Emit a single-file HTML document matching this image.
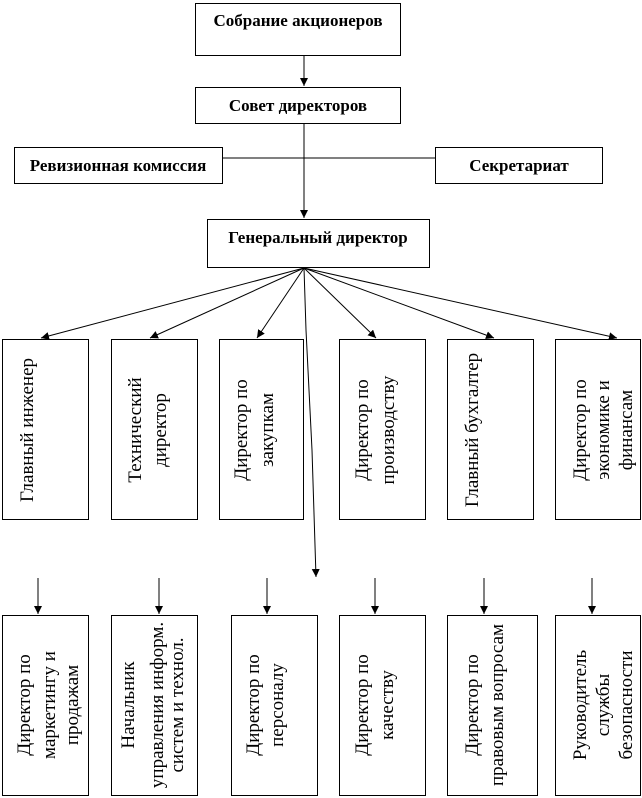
<!DOCTYPE html>
<html><head><meta charset="utf-8"><style>body{margin:0;background:#fff}svg{display:block}</style></head><body>
<svg width="642" height="798" viewBox="0 0 642 798" xmlns="http://www.w3.org/2000/svg" font-family="Liberation Serif, serif">
<defs><marker id="a" markerWidth="10" markerHeight="10" refX="8" refY="4" orient="auto" markerUnits="userSpaceOnUse"><path d="M0,0 L8,4 L0,8 z" fill="#000"/></marker></defs>
<g fill="#fff" stroke="#000" stroke-width="1">
<rect x="195.5" y="3.5" width="205" height="52"/>
<rect x="195.5" y="87.5" width="205" height="36"/>
<rect x="14.5" y="147.5" width="208" height="36"/>
<rect x="435.5" y="147.5" width="167" height="36"/>
<rect x="207.5" y="219.5" width="222" height="48"/>
<rect x="2.5" y="339.5" width="86" height="180"/>
<rect x="111.5" y="339.5" width="86" height="180"/>
<rect x="219.5" y="339.5" width="84" height="180"/>
<rect x="339.5" y="339.5" width="86" height="180"/>
<rect x="447.5" y="339.5" width="86" height="180"/>
<rect x="555.5" y="339.5" width="85" height="180"/>
<rect x="2.5" y="615.5" width="86" height="180"/>
<rect x="111.5" y="615.5" width="86" height="180"/>
<rect x="231.5" y="615.5" width="86" height="180"/>
<rect x="339.5" y="615.5" width="86" height="180"/>
<rect x="447.5" y="615.5" width="90" height="180"/>
<rect x="555.5" y="615.5" width="85" height="180"/>
</g>
<g stroke="#000" stroke-width="1" fill="none">
<line x1="304" y1="56" x2="304" y2="86" marker-end="url(#a)"/>
<line x1="304" y1="124" x2="304" y2="218" marker-end="url(#a)"/>
<line x1="222" y1="158" x2="435" y2="158"/>
<line x1="304" y1="268" x2="41" y2="338" marker-end="url(#a)"/>
<line x1="304" y1="268" x2="150" y2="338" marker-end="url(#a)"/>
<line x1="304" y1="268" x2="257" y2="338" marker-end="url(#a)"/>
<line x1="304" y1="268" x2="376" y2="338" marker-end="url(#a)"/>
<line x1="304" y1="268" x2="494" y2="338" marker-end="url(#a)"/>
<line x1="304" y1="268" x2="617" y2="338" marker-end="url(#a)"/>
<polyline points="304,268 306,330 312,450 316,577" marker-end="url(#a)"/>
<line x1="38" y1="578" x2="38" y2="614" marker-end="url(#a)"/>
<line x1="159" y1="578" x2="159" y2="614" marker-end="url(#a)"/>
<line x1="267" y1="578" x2="267" y2="614" marker-end="url(#a)"/>
<line x1="375" y1="578" x2="375" y2="614" marker-end="url(#a)"/>
<line x1="484" y1="578" x2="484" y2="614" marker-end="url(#a)"/>
<line x1="592" y1="578" x2="592" y2="614" marker-end="url(#a)"/>
</g>
<g font-weight="bold" font-size="17" text-anchor="middle" fill="#000">
<text x="298" y="26">Собрание акционеров</text>
<text x="298" y="111">Совет директоров</text>
<text x="118" y="171">Ревизионная комиссия</text>
<text x="519" y="171">Секретариат</text>
<text x="318" y="243">Генеральный директор</text>
</g>
<g font-size="19" text-anchor="middle" fill="#000">
<text transform="translate(33,430) rotate(-90)">Главный инженер</text>
<text transform="translate(141,430) rotate(-90)">Технический</text>
<text transform="translate(166,430) rotate(-90)">директор</text>
<text transform="translate(247,430) rotate(-90)">Директор по</text>
<text transform="translate(273,430) rotate(-90)">закупкам</text>
<text transform="translate(368,430) rotate(-90)">Директор по</text>
<text transform="translate(394,430) rotate(-90)">производству</text>
<text transform="translate(478,430) rotate(-90)">Главный бухгалтер</text>
<text transform="translate(586,430) rotate(-90)">Директор по</text>
<text transform="translate(609,430) rotate(-90)">экономике и</text>
<text transform="translate(632,430) rotate(-90)">финансам</text>
<text transform="translate(30,705) rotate(-90)">Директор по</text>
<text transform="translate(55,705) rotate(-90)">маркетингу  и</text>
<text transform="translate(78,705) rotate(-90)">продажам</text>
<text transform="translate(134,705) rotate(-90)">Начальник</text>
<text transform="translate(163,705) rotate(-90)">управления информ.</text>
<text transform="translate(183,705) rotate(-90)">систем и технол.</text>
<text transform="translate(259,705) rotate(-90)">Директор по</text>
<text transform="translate(283,705) rotate(-90)">персоналу</text>
<text transform="translate(368,705) rotate(-90)">Директор по</text>
<text transform="translate(393,705) rotate(-90)">качеству</text>
<text transform="translate(478,705) rotate(-90)">Директор по</text>
<text transform="translate(503,705) rotate(-90)">правовым вопросам</text>
<text transform="translate(586,705) rotate(-90)">Руководитель</text>
<text transform="translate(609,705) rotate(-90)">службы</text>
<text transform="translate(632,705) rotate(-90)">безопасности</text>
</g>
</svg>
</body></html>
